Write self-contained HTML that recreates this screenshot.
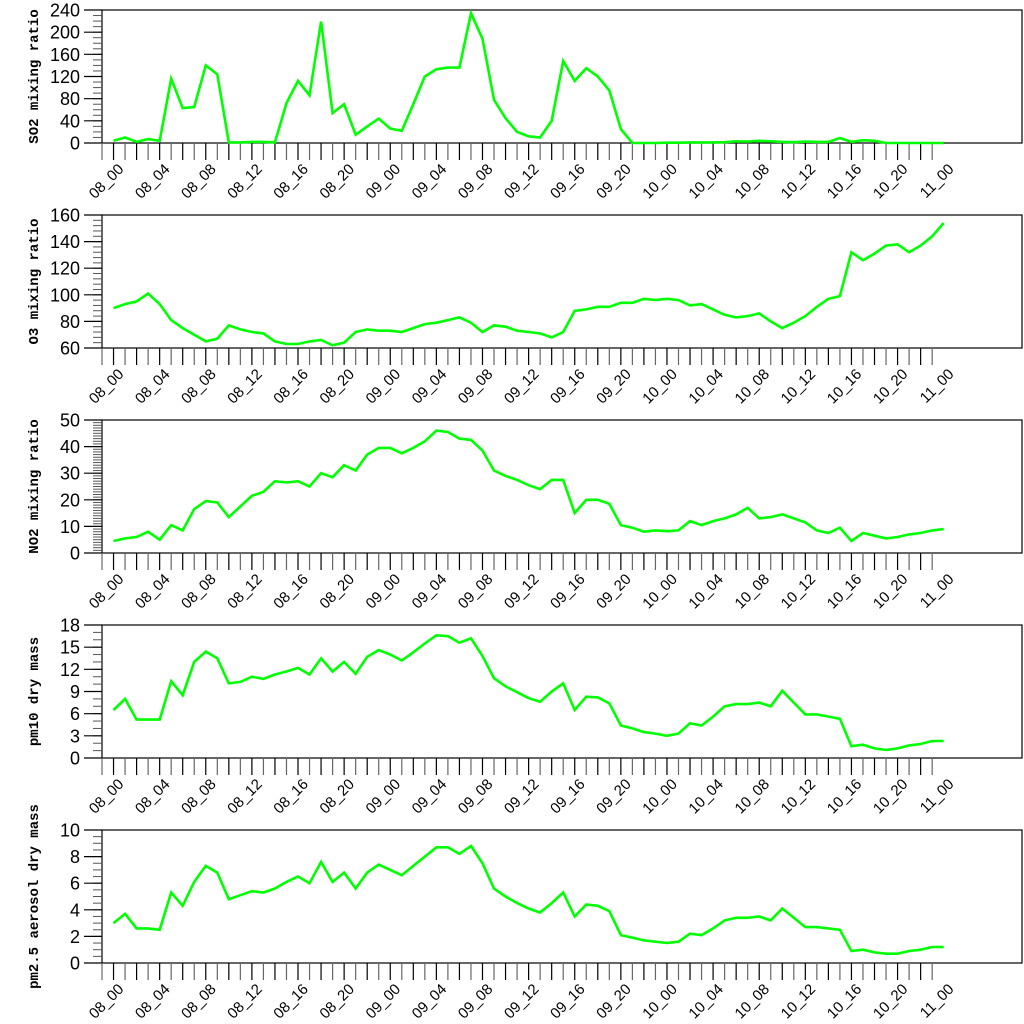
<!DOCTYPE html>
<html><head><meta charset="utf-8"><style>
html,body{margin:0;padding:0;background:#fff;}
svg{display:block;}
</style></head><body>
<svg id="chart" width="1024" height="1024" viewBox="0 0 1024 1024" xmlns="http://www.w3.org/2000/svg"></svg>
<script>
const so2 = [4,10,2,7,4,116,63,65,140,124,1,1,2,2,1,72,112,86,219,54,70,15,30,44,26,22,70,120,133,136,136,234,188,78,45,20,12,10,40,148,112,135,120,95,25,0,0,0,0.5,0.5,1,1,1,1.5,3,2.5,4,3,2,1.5,2.5,2,2,9,2,5,4,0,0,0,0,0,0];
const o3 = [90,93,95,101,93,81,75,70,65,67,77,74,72,71,65,63,63,65,66,62,64,72,74,73,73,72,75,78,79,81,83,79,72,77,76,73,72,71,68,72,88,89,91,91,94,94,97,96,97,96,92,93,89,85,83,84,86,80,75,79,84,91,97,99,132,126,131,137,138,132,137,144,154];
const no2 = [4.5,5.5,6,8,5,10.5,8.5,16.5,19.5,19,13.5,17.5,21.5,23,27,26.5,27,25,30,28.5,33,31,37,39.5,39.5,37.5,39.5,42,46,45.5,43,42.5,38.5,31,29,27.5,25.5,24,27.5,27.5,15,20,20,18.5,10.5,9.5,8,8.5,8.2,8.5,12,10.5,12,13,14.5,17,13,13.5,14.5,13,11.5,8.5,7.5,9.5,4.5,7.5,6.5,5.5,6,7,7.5,8.5,9];
const pm10 = [6.5,8,5.2,5.2,5.2,10.4,8.5,13,14.4,13.5,10.1,10.3,11,10.7,11.3,11.7,12.2,11.3,13.5,11.7,13,11.4,13.7,14.6,14,13.2,14.3,15.5,16.6,16.5,15.6,16.2,13.8,10.8,9.7,8.9,8.1,7.6,9,10.1,6.5,8.3,8.2,7.4,4.4,4,3.5,3.3,3,3.3,4.7,4.4,5.6,7,7.3,7.3,7.5,7,9.1,7.5,5.9,5.9,5.6,5.3,1.6,1.8,1.3,1.1,1.3,1.7,1.9,2.3,2.3];
const pm25 = [3,3.7,2.6,2.6,2.5,5.3,4.3,6.1,7.3,6.8,4.8,5.1,5.4,5.3,5.6,6.1,6.5,6,7.6,6.1,6.8,5.6,6.8,7.4,7,6.6,7.3,8,8.7,8.7,8.2,8.8,7.5,5.6,5,4.5,4.1,3.8,4.5,5.3,3.5,4.4,4.3,3.9,2.1,1.9,1.7,1.6,1.5,1.6,2.2,2.1,2.6,3.2,3.4,3.4,3.5,3.2,4.1,3.4,2.7,2.7,2.6,2.5,0.9,1,0.8,0.7,0.7,0.9,1,1.2,1.2];
const xLabels = ["08_00","08_04","08_08","08_12","08_16","08_20","09_00","09_04","09_08","09_12","09_16","09_20","10_00","10_04","10_08","10_12","10_16","10_20","11_00"];
const titles = ["SO2 mixing ratio","O3 mixing ratio","NO2 mixing ratio","pm10 dry mass","pm2.5 aerosol dry mass"];
const yMax = [240,160,50,18,10];
const yMin = [0,60,0,0,0];
const yMajor = [40,20,10,3,2];
const yMinor = [10,4,1,1,0.5];
const series = [so2,o3,no2,pm10,pm25];
const keys = ["so2","o3","no2","pm10","pm25"];

const NS="http://www.w3.org/2000/svg";
const svg=document.getElementById('chart');
function mk(tag,attrs,parent){const e=document.createElementNS(NS,tag);for(const k in attrs)e.setAttribute(k,attrs[k]);(parent||svg).appendChild(e);return e;}
const L=102,R=1022,step=11.53;
function xs(i){return L+(i+1)*step;}

for(let p=0;p<5;p++){
  const top=10+p*205,bot=top+133;
  const g=mk('g',{});
  
  
  const ys=v=>bot-(v-yMin[p])/(yMax[p]-yMin[p])*(bot-top);
  // frame
  const fr=mk('rect',{x:L,y:top,width:R-L,height:bot-top,fill:'none',stroke:'#000','stroke-width':1.2},g);
  
  
  // y minor ticks
  const nMin=Math.round((yMax[p]-yMin[p])/yMinor[p]);
  for(let k=0;k<=nMin;k++){
    const v=yMin[p]+k*yMinor[p];const y=ys(v);
    mk('line',{x1:93,x2:L,y1:y,y2:y,stroke:'#555','stroke-width':1},g);
  }
  const nMaj=Math.round((yMax[p]-yMin[p])/yMajor[p]);
  for(let k=0;k<=nMaj;k++){
    const v=yMin[p]+k*yMajor[p];const y=ys(v);
    mk('line',{x1:84,x2:L,y1:y,y2:y,stroke:'#000','stroke-width':1.2},g);
    const t=mk('text',{x:80,y:y+6.5,'text-anchor':'end','font-family':'Liberation Sans, sans-serif','font-size':18,fill:'#000'},g);
    t.textContent=String(v);
    
    
  }
  // x ticks
  for(let i=-1;i<72;i++){
    mk('line',{x1:xs(i),x2:xs(i),y1:bot,y2:bot+17,stroke:(i%2===0)?'#000':'#666','stroke-width':1.2},g);
  }
  xLabels.forEach((lab,k)=>{
    const x=xs(k*4)+11,y=bot+27;
    const t=mk('text',{x:x,y:y,'text-anchor':'end','font-family':'Liberation Sans, sans-serif','font-size':15,fill:'#000',transform:`rotate(-45 ${x} ${y})`},g);
    t.textContent=lab;
    
    
  });
  // y title
  const cy=(top+bot)/2;
  const tt=mk('text',{x:38,y:cy,'text-anchor':'middle','font-family':'Liberation Mono, monospace','font-weight':'bold','font-size':14,fill:'#000',transform:`rotate(-90 38 ${cy})`},g);
  tt.textContent=titles[p];
  
  
  // line
  const d=series[p].map((v,i)=>(i?'L':'M')+xs(i).toFixed(1)+' '+ys(v).toFixed(1)).join(' ');
  const ln=mk('path',{d:d,fill:'none',stroke:'#00ff00','stroke-width':2.6,'stroke-linejoin':'miter'},g);
  
  
}
</script>
</body></html>
